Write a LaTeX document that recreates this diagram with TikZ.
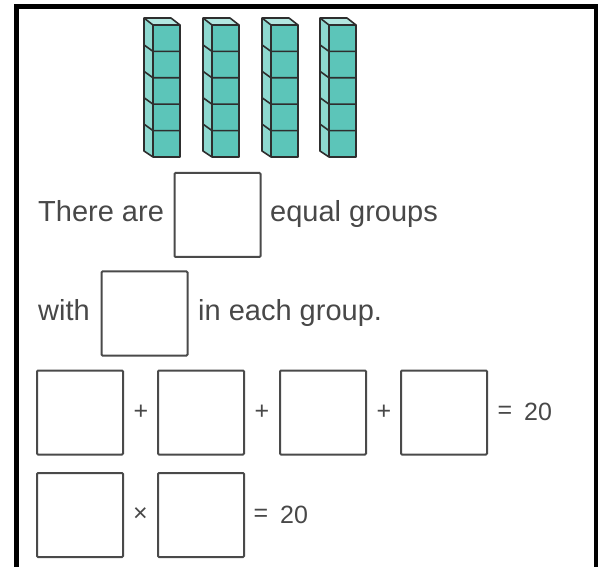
\documentclass[tikz,border=0pt]{standalone}
\usepackage{fontspec}
\setmainfont{Liberation Sans}
\definecolor{cubefront}{HTML}{5CC5B9}
\definecolor{cubeside}{HTML}{8ED9D0}
\definecolor{cubetop}{HTML}{B2E7E0}
\definecolor{cubeline}{HTML}{2E2E2E}
\definecolor{txtgray}{HTML}{484848}
\definecolor{boxline}{HTML}{4A4A4A}
\tikzset{
  answerbox/.style={draw=boxline, line width=2pt, rounded corners=1pt, minimum width=86pt, minimum height=84pt, inner sep=0pt},
  words/.style={font=\fontsize{29}{34}\selectfont, text=txtgray, inner sep=0pt, anchor=base west},
  sign/.style={font=\fontsize{25}{30}\selectfont, text=txtgray, inner sep=0pt},
  cubeface/.style={draw=cubeline, line width=1.6pt, line join=round}
}
\begin{document}
\begin{tikzpicture}[x=1pt,y=-1pt]
\useasboundingbox (0,0) rectangle (598,567);
% frame
\fill[black] (14,4) rectangle (19,567);
\fill[black] (14,4) rectangle (598,9);
\fill[black] (594,4) rectangle (598,567);
% cube columns
\foreach \cx in {144,203,262,320}{
  % fills
  \fill[cubeside] ({\cx+9},25) -- (\cx,18) -- (\cx,151) -- ({\cx+9},157) -- cycle;
  \fill[cubefront] ({\cx+9},25) rectangle ({\cx+36},157);
  \fill[cubetop] ({\cx+9},25) -- (\cx,18) -- ({\cx+27},18) -- ({\cx+36},25) -- cycle;
  % outlines
  \draw[cubeface] ({\cx+9},157) -- (\cx,151) -- (\cx,18) -- ({\cx+27},18) -- ({\cx+36},25) -- ({\cx+36},157) -- cycle;
  \draw[cubeface] (\cx,18) -- ({\cx+9},25) -- ({\cx+36},25);
  \draw[cubeface] ({\cx+9},25) -- ({\cx+9},157);
  \foreach \i in {1,...,4}{
    \pgfmathsetmacro\yt{25+26.4*\i}
    \draw[cubeface] (\cx,{\yt-6.5}) -- ({\cx+9},\yt) -- ({\cx+36},\yt);
  }
}
% row 1
\node[words] (t1) at (38,222) {There are};
\node[answerbox] (b1) at (217.5,215) {};
\node[words] (t2) at (270,222) {equal groups};
% row 2
\node[words] (t3) at (38,320) {with};
\node[answerbox] (b2) at (144.5,313.5) {};
\node[words] (t4) at (198,320) {in each group.};
% row 3
\node[answerbox] (r1) at (80,412.5) {};
\node[answerbox] (r2) at (201,412.5) {};
\node[answerbox] (r3) at (323,412.5) {};
\node[answerbox] (r4) at (444,412.5) {};
\node[sign] (p1) at (141,412) {+};
\node[sign] (p2) at (262,412) {+};
\node[sign] (p3) at (384,412) {+};
\node[sign] (e1) at (505,412) {=};
\node[sign, anchor=base west] (n1) at (524,420) {20};
% row 4
\node[answerbox] (m1) at (80,515) {};
\node[answerbox] (m2) at (201,515) {};
\node[sign] (x1) at (140.5,515) {×};
\node[sign] (e2) at (261,515) {=};
\node[sign, anchor=base west] (n2) at (280,523) {20};
\end{tikzpicture}
\end{document}
